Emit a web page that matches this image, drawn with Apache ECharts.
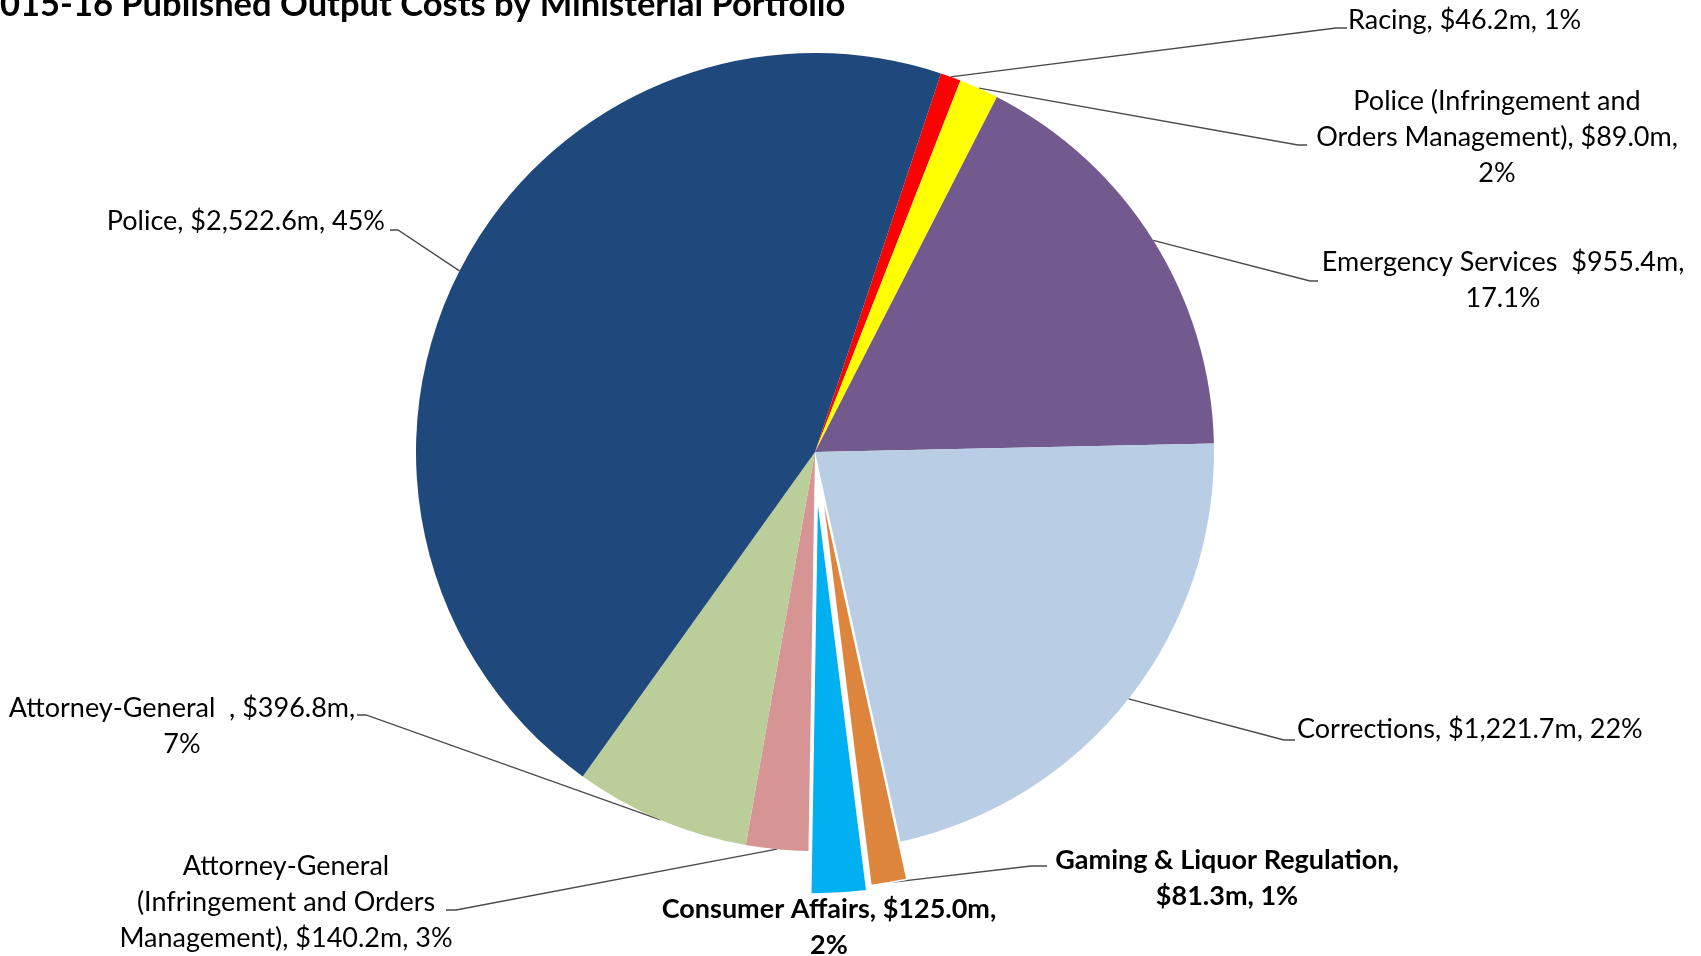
<!DOCTYPE html>
<html><head><meta charset="utf-8">
<script src="https://cdn.jsdelivr.net/npm/echarts@6/dist/echarts.min.js"></script>
<style>html,body{margin:0;padding:0;background:#fff}#c{width:1701px;height:956px}</style>
</head><body><div id="c"></div>
<script>
// ---- data ----
const titleText = '2015-16 Published Output Costs by Ministerial Portfolio';
const categories = ['Racing', 'Police (Infringement and Orders Management)', 'Emergency Services', 'Corrections',
  'Gaming & Liquor Regulation', 'Consumer Affairs', 'Attorney-General (Infringement and Orders Management)',
  'Attorney-General', 'Police'];
const values = [46.2, 89.0, 955.4, 1221.7, 81.3, 125.0, 140.2, 396.8, 2522.6];
const shareLabels = ['1%', '2%', '17.1%', '22%', '1%', '2%', '3%', '7%', '45%'];
// displayed label names (with the original line breaks / spacing)
const labelNames = ['Racing', 'Police (Infringement and\nOrders Management)', 'Emergency Services', 'Corrections',
  'Gaming & Liquor Regulation', 'Consumer Affairs', 'Attorney-General\n(Infringement and Orders\nManagement)',
  'Attorney-General  ', 'Police'];
const sepNameValue = [', ', ', ', '  ', ', ', ',\n', ', ', ', ', ', ', ', '];
const sepValueShare = [', ', ',\n', ',\n', ', ', ', ', ',\n', ', ', ',\n', ', '];
const boldLabel = [false, false, false, false, true, true, false, false, false];
const colors = ['#FF0000', '#FFFF00', '#725A8F', '#B9CDE5', '#DD853D', '#00B0F0', '#D69594', '#BBCD99', '#1F497D'];

// ---- layout (style) ----
const CX = 815, CY = 452, R = 399, START = 71.6;
const explodeOffset = [0, 0, 0, 0, 38, 43, 0, 0, 0];
const FONT = 'Lato';
const labelPos = [
  {x: 1348, y: 20, align: 'left', line: [[1336, 28], [1347, 28]]},
  {x: 1497, y: 137, align: 'center', line: [[1298, 145], [1307, 145]]},
  {x: 1503, y: 280, align: 'center', line: [[1310, 281], [1318, 281]]},
  {x: 1297, y: 729, align: 'left', line: [[1284, 740], [1295, 740]]},
  {x: 1227, y: 878, align: 'center', line: [[1031, 866], [1047, 866]]},
  {x: 829, y: 927, align: 'center', line: null},
  {x: 286, y: 902, align: 'center', line: [[456, 910], [446, 910]]},
  {x: 182, y: 726, align: 'center', line: [[366, 715], [357, 715]]},
  {x: 385, y: 221, align: 'right', line: [[398, 230], [390, 230]]}
];

function money(v) {
  return '$' + v.toLocaleString('en-US', {minimumFractionDigits: 1, maximumFractionDigits: 1}) + 'm';
}
const total = values.reduce((a, b) => a + b, 0);
const midAngles = [];
{ let cum = 0; values.forEach(v => { midAngles.push(START - 360 * (cum + v / 2) / total); cum += v; }); }
function rad(d) { return d * Math.PI / 180; }

const mainData = categories.map((c, i) => ({
  name: c, value: values[i],
  itemStyle: {color: explodeOffset[i] ? 'rgba(0,0,0,0)' : colors[i]},
  label: {
    formatter: labelNames[i] + sepNameValue[i] + money(values[i]) + sepValueShare[i] + shareLabels[i],
    fontWeight: boldLabel[i] ? 'bold' : 'normal'
  },
  labelLine: {show: labelPos[i].line !== null}
}));

const series = [{
  type: 'pie', center: [CX, CY], radius: R, startAngle: START, clockwise: true,
  avoidLabelOverlap: false, animation: false, emphasis: {disabled: true},
  data: mainData,
  label: {show: true, position: 'outside', color: '#000', fontFamily: FONT, fontSize: 27, lineHeight: 36},
  labelLine: {show: true, lineStyle: {color: '#4a4a4a', width: 1.3}},
  labelLayout: function (p) {
    const i = p.dataIndex, L = labelPos[i];
    const out = {x: L.x, y: L.y, align: L.align, verticalAlign: 'middle'};
    if (L.line && p.labelLinePoints) {
      let a = p.labelLinePoints[0];
      if (explodeOffset[i]) {
        const m = rad(midAngles[i]);
        a = [a[0] + explodeOffset[i] * Math.cos(m), a[1] - explodeOffset[i] * Math.sin(m)];
      }
      out.labelLinePoints = [a, L.line[0], L.line[1]];
    }
    return out;
  }
}];

explodeOffset.forEach((off, k) => {
  if (!off) return;
  const m = rad(midAngles[k]);
  series.push({
    type: 'pie', center: [CX + off * Math.cos(m), CY - off * Math.sin(m)], radius: R,
    startAngle: START, clockwise: true, silent: true, animation: false,
    label: {show: false}, labelLine: {show: false},
    data: categories.map((c, i) => ({
      name: c, value: values[i],
      itemStyle: i === k ? {color: colors[i], borderColor: '#fff', borderWidth: 1.5} : {color: 'rgba(0,0,0,0)'}
    }))
  });
});

const chart = echarts.init(document.getElementById('c'), null, {renderer: 'canvas'});
chart.setOption({
  backgroundColor: '#fff',
  title: {text: titleText, left: -25, top: -18,
    textStyle: {fontFamily: FONT, fontWeight: 'bold', fontSize: 34.5, color: '#000'}},
  series: series
});
</script></body></html>
